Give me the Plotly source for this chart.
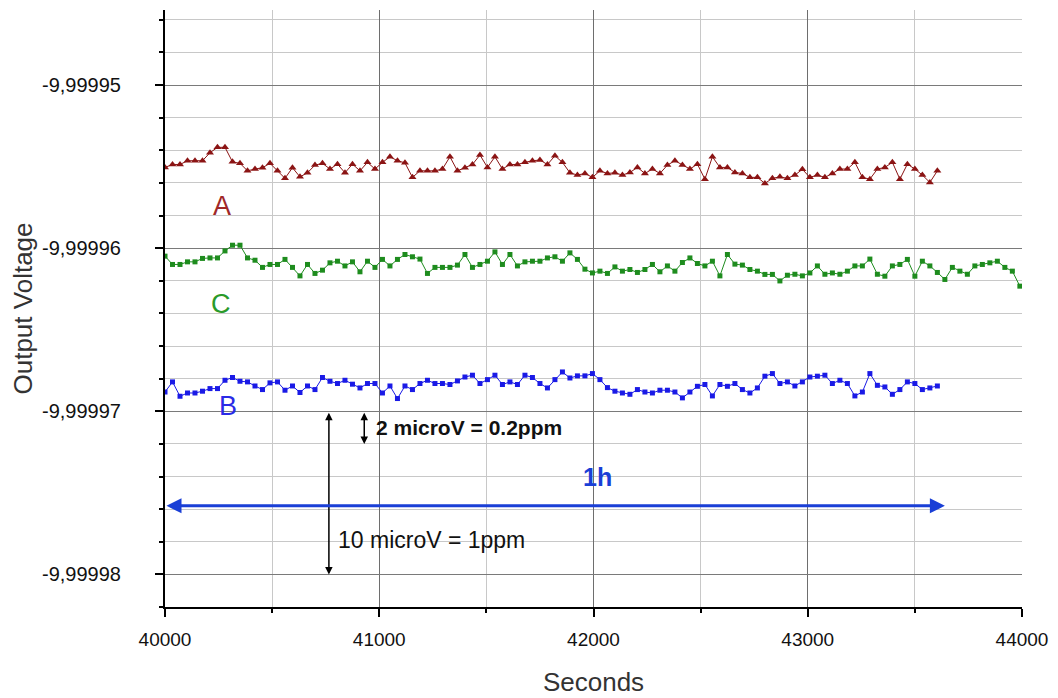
import plotly.graph_objects as go

# Time step ~35 s
x_start = 40000
x_step = 35

# Series A (dark red triangles), volts
A = [-9.99995505, -9.99995487, -9.99995487, -9.99995464, -9.99995464, -9.99995464, -9.99995415, -9.99995382, -9.99995382, -9.99995471,
     -9.99995480, -9.99995526, -9.99995515, -9.99995507, -9.99995480, -9.99995526, -9.99995572, -9.99995507, -9.99995563, -9.99995538,
     -9.99995491, -9.99995480, -9.99995515, -9.99995485, -9.99995538, -9.99995485, -9.99995526, -9.99995474, -9.99995515,
     -9.99995474, -9.99995440, -9.99995464, -9.99995477, -9.99995566, -9.99995526, -9.99995526, -9.99995526, -9.99995515, -9.99995440,
     -9.99995526, -9.99995507, -9.99995487, -9.99995429, -9.99995505, -9.99995440, -9.99995515, -9.99995487, -9.99995487, -9.99995474,
     -9.99995464, -9.99995460, -9.99995487, -9.99995434, -9.99995474, -9.99995538, -9.99995552, -9.99995542, -9.99995566,
     -9.99995526, -9.99995542, -9.99995538, -9.99995552, -9.99995536, -9.99995505, -9.99995542, -9.99995515, -9.99995542, -9.99995491,
     -9.99995464, -9.99995491, -9.99995515, -9.99995485, -9.99995577, -9.99995440, -9.99995505, -9.99995505, -9.99995536, -9.99995542,
     -9.99995566, -9.99995566, -9.99995603, -9.99995572, -9.99995563, -9.99995572, -9.99995552, -9.99995517,
     -9.99995566, -9.99995552, -9.99995566, -9.99995542, -9.99995515, -9.99995515, -9.99995474, -9.99995566, -9.99995577, -9.99995515,
     -9.99995505, -9.99995474, -9.99995577, -9.99995485, -9.99995515, -9.99995552, -9.99995597, -9.99995526]

# Series C (green squares), volts
C = [-9.99996049, -9.99996100, -9.99996100, -9.99996084, -9.99996084, -9.99996063, -9.99996060, -9.99996060, -9.99996017, -9.99995982,
     -9.99995982, -9.99996060, -9.99996074, -9.99996118, -9.99996100, -9.99996100, -9.99996069, -9.99996118, -9.99996170, -9.99996100,
     -9.99996155, -9.99996135, -9.99996090, -9.99996080, -9.99996109, -9.99996084, -9.99996145, -9.99996080, -9.99996118,
     -9.99996069, -9.99996109, -9.99996069, -9.99996039, -9.99996053, -9.99996067, -9.99996155, -9.99996118, -9.99996118, -9.99996118,
     -9.99996104, -9.99996039, -9.99996118, -9.99996100, -9.99996080, -9.99996023, -9.99996100, -9.99996039, -9.99996109, -9.99996084,
     -9.99996080, -9.99996080, -9.99996060, -9.99996053, -9.99996080, -9.99996029, -9.99996069, -9.99996129, -9.99996152,
     -9.99996141, -9.99996155, -9.99996115, -9.99996141, -9.99996131, -9.99996149, -9.99996131, -9.99996100, -9.99996145, -9.99996109,
     -9.99996141, -9.99996088, -9.99996060, -9.99996094, -9.99996109, -9.99996080, -9.99996170, -9.99996039, -9.99996098, -9.99996104,
     -9.99996131, -9.99996141, -9.99996161, -9.99996161, -9.99996201, -9.99996166, -9.99996160, -9.99996170,
     -9.99996152, -9.99996109, -9.99996160, -9.99996152, -9.99996160, -9.99996141, -9.99996109, -9.99996109, -9.99996067, -9.99996160,
     -9.99996172, -9.99996109, -9.99996100, -9.99996069, -9.99996172, -9.99996080, -9.99996109, -9.99996149, -9.99996192, -9.99996118,
     -9.99996141, -9.99996160, -9.99996109, -9.99996100, -9.99996090, -9.99996080, -9.99996118, -9.99996141, -9.99996233]

# Series B (blue squares), volts
B = [-9.99996882, -9.99996820, -9.99996908, -9.99996888, -9.99996888, -9.99996877, -9.99996861, -9.99996861, -9.99996810, -9.99996793,
     -9.99996816, -9.99996820, -9.99996845, -9.99996867, -9.99996826, -9.99996820, -9.99996871, -9.99996845, -9.99996885, -9.99996845,
     -9.99996867, -9.99996793, -9.99996816, -9.99996830, -9.99996810, -9.99996834, -9.99996857, -9.99996830, -9.99996830,
     -9.99996888, -9.99996845, -9.99996922, -9.99996845, -9.99996867, -9.99996830, -9.99996810, -9.99996830, -9.99996830, -9.99996836,
     -9.99996814, -9.99996790, -9.99996779, -9.99996830, -9.99996806, -9.99996779, -9.99996836, -9.99996820, -9.99996836, -9.99996779,
     -9.99996793, -9.99996830, -9.99996857, -9.99996806, -9.99996759, -9.99996796, -9.99996783, -9.99996783, -9.99996769,
     -9.99996806, -9.99996855, -9.99996877, -9.99996888, -9.99996896, -9.99996867, -9.99996882, -9.99996888, -9.99996871, -9.99996871,
     -9.99996882, -9.99996918, -9.99996882, -9.99996847, -9.99996836, -9.99996906, -9.99996836, -9.99996847, -9.99996830, -9.99996867,
     -9.99996888, -9.99996857, -9.99996785, -9.99996769, -9.99996830, -9.99996820, -9.99996845, -9.99996820,
     -9.99996790, -9.99996785, -9.99996779, -9.99996830, -9.99996810, -9.99996830, -9.99996906, -9.99996882, -9.99996769, -9.99996841,
     -9.99996851, -9.99996896, -9.99996867, -9.99996820, -9.99996830, -9.99996867, -9.99996857, -9.99996845]

xA = [x_start + x_step * i for i in range(len(A))]
xC = [x_start + x_step * i for i in range(len(C))]
xB = [x_start + x_step * i for i in range(len(B))]

y_tickvals = [-9.99995, -9.99996, -9.99997, -9.99998]
y_ticktext = ["-9,99995", "-9,99996", "-9,99997", "-9,99998"]
y_minorvals = [-9.999952, -9.999954, -9.999956, -9.999958,
               -9.999962, -9.999964, -9.999966, -9.999968,
               -9.999972, -9.999974, -9.999976, -9.999978,
               -9.999946, -9.999948, -9.999982]
x_tickvals = [40000, 41000, 42000, 43000, 44000]

FONT = "Liberation Sans, Arial, sans-serif"

fig = go.Figure()
fig.add_trace(go.Scatter(x=xA, y=A, mode="lines+markers",
                         line=dict(color="#8b1414", width=1),
                         marker=dict(symbol="triangle-up", size=7, color="#8b1414")))
fig.add_trace(go.Scatter(x=xC, y=C, mode="lines+markers",
                         line=dict(color="#1e8c1e", width=1),
                         marker=dict(symbol="square", size=5, color="#1e8c1e")))
fig.add_trace(go.Scatter(x=xB, y=B, mode="lines+markers",
                         line=dict(color="#1a1ae6", width=1),
                         marker=dict(symbol="square", size=5, color="#1a1ae6")))

annotations = [
    dict(x=40265, y=-9.9999574, text="A", showarrow=False, font=dict(size=27, color="#a02828", family=FONT)),
    dict(x=40260, y=-9.9999634, text="C", showarrow=False, font=dict(size=27, color="#2a9a2a", family=FONT)),
    dict(x=40295, y=-9.9999697, text="B", showarrow=False, font=dict(size=27, color="#2a2ae6", family=FONT)),
    # 2 microV arrow
    dict(x=40930, y=-9.999972, ax=40930, ay=-9.99997, xref="x", yref="y", axref="x", ayref="y",
         showarrow=True, arrowhead=2, arrowside="end+start", arrowsize=1, arrowwidth=1.5, arrowcolor="black", text=""),
    dict(x=40975, y=-9.999971, text="<b>2 microV = 0.2ppm</b>", showarrow=False, xanchor="left",
         font=dict(size=21, color="#111", family=FONT)),
    # 10 microV arrow
    dict(x=40765, y=-9.99998, ax=40765, ay=-9.99997, xref="x", yref="y", axref="x", ayref="y",
         showarrow=True, arrowhead=2, arrowside="end+start", arrowsize=1, arrowwidth=1.5, arrowcolor="black", text=""),
    dict(x=40800, y=-9.9999779, text="10 microV = 1ppm", showarrow=False, xanchor="left",
         font=dict(size=23, color="#111", family=FONT)),
    # 1h arrow
    dict(x=43640, y=-9.9999758, ax=40000, ay=-9.9999758, xref="x", yref="y", axref="x", ayref="y",
         showarrow=True, arrowhead=2, arrowside="end+start", arrowsize=1, arrowwidth=3, arrowcolor="#1a3fd6", text=""),
    dict(x=42020, y=-9.9999740, text="<b>1h</b>", showarrow=False,
         font=dict(size=25, color="#1a3fd6", family=FONT)),
]

fig.update_layout(
    width=1050, height=690,
    margin=dict(l=157, r=36, t=2, b=91),
    paper_bgcolor="white", plot_bgcolor="white",
    showlegend=False,
    annotations=annotations,
    font=dict(family=FONT, color="#222"),
)
fig.update_xaxes(
    range=[40000, 44000], tickvals=x_tickvals, tickformat="d",
    showgrid=True, gridcolor="#6e6e6e", gridwidth=1,
    showline=True, linecolor="black", linewidth=2,
    ticks="outside", ticklen=8, tickcolor="black", tickwidth=1.5,
    tickfont=dict(size=19, family=FONT, color="#111"), ticklabelstandoff=6,
    minor=dict(dtick=500, tick0=40000, showgrid=True, gridcolor="#c8c8c8", ticks="outside", ticklen=4, tickcolor="black"),
    title=dict(text="Seconds", font=dict(size=26, family=FONT, color="#333"), standoff=24),
    zeroline=False,
)
fig.update_yaxes(
    range=[-9.999982, -9.9999454], tickvals=y_tickvals, ticktext=y_ticktext,
    showgrid=True, gridcolor="#7a7a7a", gridwidth=1,
    showline=True, linecolor="black", linewidth=2,
    ticks="outside", ticklen=8, tickcolor="black", tickwidth=1.5,
    tickfont=dict(size=20, family=FONT, color="#111"), ticklabelstandoff=30,
    minor=dict(tickvals=y_minorvals, showgrid=True, gridcolor="#c8c8c8", ticks="outside", ticklen=4, tickcolor="black"),
    title=dict(text="Output Voltage", font=dict(size=26, family=FONT, color="#333"), standoff=2),
    zeroline=False,
)

fig.write_html("out.html")
